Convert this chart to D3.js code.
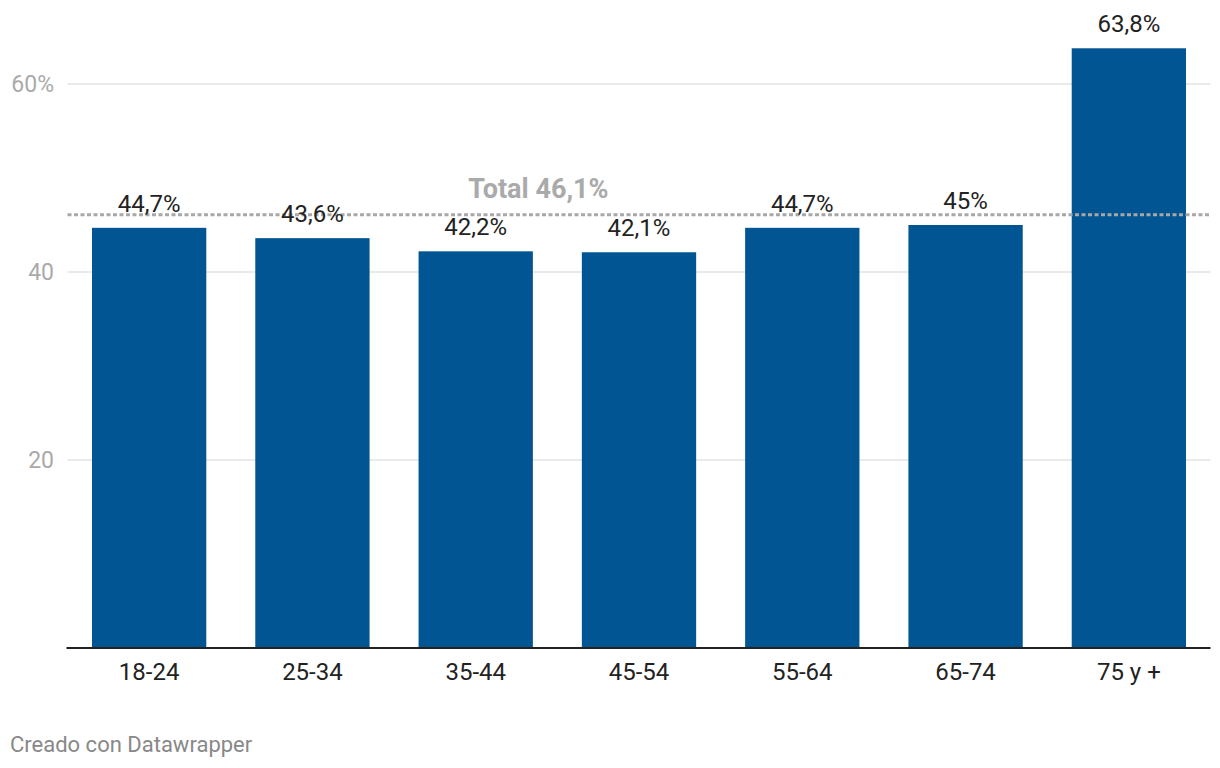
<!DOCTYPE html>
<html><head><meta charset="utf-8">
<script src="https://cdn.jsdelivr.net/npm/d3@7"></script>
<style>
body{margin:0;background:#fff;font-family:Roboto,sans-serif;}
</style></head>
<body>
<svg id="c" width="1220" height="768"></svg>
<script>
const categories = ["18-24","25-34","35-44","45-54","55-64","65-74","75 y +"];
const values = [44.7,43.6,42.2,42.1,44.7,45.0,63.8];
const valueLabels = ["44,7%","43,6%","42,2%","42,1%","44,7%","45%","63,8%"];
const yTicks = [20,40,60];
const totalValue = 46.1;
const totalLabel = "Total 46,1%";

const svg = d3.select("#c");
const left = 67.5, right = 1210.5, zeroY = 648;
const x = d3.scaleBand().domain(categories).range([left,right]).paddingInner(0.3).paddingOuter(0.15);
const y = d3.scaleLinear().domain([0,60]).range([zeroY, zeroY-564]);

// gridlines
svg.append("g").selectAll("line").data(yTicks).join("line")
  .attr("x1",left).attr("x2",right)
  .attr("y1",d=>y(d)).attr("y2",d=>y(d))
  .attr("stroke","#e3e3e3").attr("stroke-width",1.5);

// y tick labels
svg.append("g").selectAll("text").data(yTicks).join("text")
  .attr("x",54).attr("y",d=>y(d)+8)
  .attr("text-anchor","end").attr("fill","#aaaaaa")
  .attr("font-size",23)
  .text(d=>d===60?d+"%":d);

// bars
svg.append("g").selectAll("rect").data(values).join("rect")
  .attr("x",(d,i)=>x(categories[i]))
  .attr("width",x.bandwidth())
  .attr("y",d=>y(d))
  .attr("height",d=>y(0)-y(d))
  .attr("fill","#015592");

// total line
svg.append("line")
  .attr("x1",left).attr("x2",right)
  .attr("y1",y(totalValue)).attr("y2",y(totalValue))
  .attr("stroke","#a8a8a8").attr("stroke-width",3)
  .attr("stroke-dasharray","4,2.5");

// value labels
svg.append("g").selectAll("text").data(values).join("text")
  .attr("x",(d,i)=>x(categories[i])+x.bandwidth()/2)
  .attr("y",d=>y(d)-16)
  .attr("text-anchor","middle").attr("fill","#222")
  .attr("font-size",24)
  .text((d,i)=>valueLabels[i]);

// total label
svg.append("text")
  .attr("x",left+(right-left)*0.412)
  .attr("y",y(totalValue)-17)
  .attr("text-anchor","middle").attr("fill","#aaaaaa")
  .attr("font-size",27).attr("font-weight","bold")
  .text(totalLabel);

// x axis
svg.append("line")
  .attr("x1",left-1).attr("x2",right)
  .attr("y1",zeroY).attr("y2",zeroY)
  .attr("stroke","#222").attr("stroke-width",2);

svg.append("g").selectAll("text").data(categories).join("text")
  .attr("x",d=>x(d)+x.bandwidth()/2)
  .attr("y",zeroY+32)
  .attr("text-anchor","middle").attr("fill","#222")
  .attr("font-size",24)
  .text(d=>d);

svg.append("text")
  .attr("x",10).attr("y",752)
  .attr("fill","#888").attr("font-size",22)
  .text("Creado con Datawrapper");
</script>
</body></html>
